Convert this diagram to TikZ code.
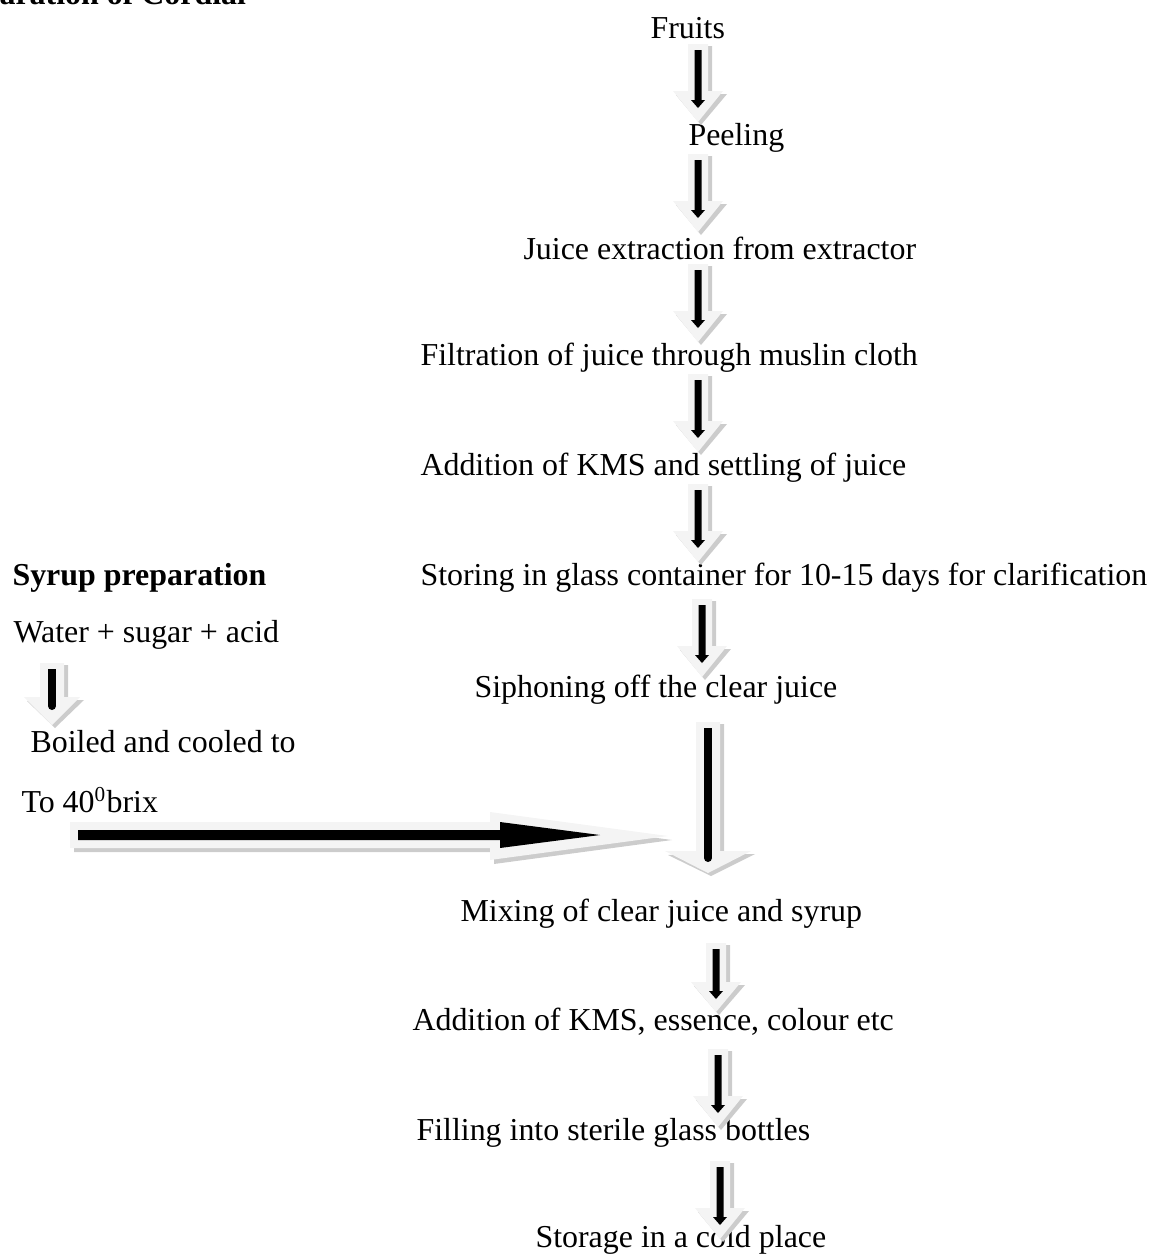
\documentclass[tikz,border=0pt]{standalone}
\usepackage{fontspec}
\setmainfont{Liberation Serif}
\newcommand\vgrey[6]{% x, top, tip, shaft half width, head half width, head length
  \fill[shadowfill] ({#1-#4+4},{#2+2}) -- ({#1+#4+4},{#2+2}) -- ({#1+#4+4},{#3-#6+3}) -- ({#1+#5+4},{#3-#6+3}) -- ({#1+3},{#3+3}) -- ({#1-#5+3},{#3-#6+4}) -- ({#1-#4+4},{#3-#6+3}) -- cycle;
  \fill[lightfill] ({#1-#4},{#2}) -- ({#1+#4},{#2}) -- ({#1+#4},{#3-#6}) -- ({#1+#5},{#3-#6}) -- (#1,#3) -- ({#1-#5},{#3-#6}) -- ({#1-#4},{#3-#6}) -- cycle;}
\newcommand\vblack[3]{% x, top, tip
  \fill[black] ({#1-3.5},#2) -- ({#1+3.5},#2) -- ({#1+3.5},{#3-8}) -- ({#1+7},{#3-8}) -- (#1,#3) -- ({#1-7},{#3-8}) -- ({#1-3.5},{#3-8}) -- cycle;}
\newcommand\vblackround[4]{% x, top, bottom, half width
  \fill[black] ({#1-#4},#2) rectangle ({#1+#4},#3);
  \fill[black] (#1,#3) circle (#4);}
\newcommand\stdarrow[2]{% x, top (length 78)
  \vgrey{#1}{#2}{#2+78}{10}{25}{31}
  \vblack{#1}{#2+6}{#2+64}}
\begin{document}
\begin{tikzpicture}[x=0.01322cm,y=-0.01322cm,
  lbl/.style={inner sep=0pt, anchor=west, font=\fontsize{12}{14}\selectfont},
  hd/.style={lbl, font=\fontsize{12}{14}\selectfont\bfseries},
  lightfill/.style={fill=gray!9},
  shadowfill/.style={fill=gray!40}]
\useasboundingbox (0,0) rectangle (1150,1257);

% title (cut off by the page top)
\node[hd, anchor=base west] (title) at (-66,4) {Preparation of Cordial};

% main column texts
\node[lbl] (fruits) at (650,28) {Fruits};
\node[lbl] (peeling) at (688,138) {Peeling};
\node[lbl] (juice) at (523,248) {Juice extraction from extractor};
\node[lbl] (filtr) at (420,358) {Filtration of juice through muslin cloth};
\node[lbl] (kms) at (420,468) {Addition of KMS and settling of juice};
\node[lbl] (store) at (420,578) {Storing in glass container for 10-15 days for clarification};
\node[lbl] (siphon) at (474,690) {Siphoning off the clear juice};
\node[lbl] (mix) at (460,914) {Mixing of clear juice and syrup};
\node[lbl] (ess) at (412,1022) {Addition of KMS, essence, colour etc};
\node[lbl] (fill) at (416,1133) {Filling into sterile glass bottles};
\node[lbl] (storage) at (535,1240) {Storage in a cold place};

% syrup column texts
\node[hd] (syrup) at (12,578) {Syrup preparation};
\node[lbl] (water) at (13,635) {Water + sugar + acid};
\node[lbl] (boiled) at (30,742) {Boiled and cooled to};
\node[lbl] (brix) at (21,800) {To 40\textsuperscript{0}brix};

% main column arrows
\stdarrow{698}{44}
\stdarrow{698}{154}
\stdarrow{698}{264}
\stdarrow{698}{374}
\stdarrow{698}{484}
\stdarrow{702}{599}

% big arrow siphon -> mixing
\vgrey{708}{722}{873}{12}{43}{22}
\vblackround{708}{728}{858}{4}

% lower arrows
\vgrey{716}{943}{1012}{10}{25}{30}
\vblack{716}{949}{999}
\stdarrow{718}{1049}
\stdarrow{720}{1161}

% syrup small arrow
\vgrey{52}{663}{725}{12}{28}{28}
\vblackround{52}{669}{706}{4}

% horizontal arrow syrup -> mixing
\fill[shadowfill] (74,826) -- (494,826) -- (494,816) -- (672,840) -- (494,864) -- (494,852) -- (74,852) -- cycle;
\fill[lightfill] (70,822) -- (490,822) -- (490,812) -- (668,836) -- (490,860) -- (490,848) -- (70,848) -- cycle;
\fill[black] (78,830) -- (500,830) -- (500,822) -- (600,835) -- (500,848) -- (500,840) -- (78,840) -- cycle;
\end{tikzpicture}
\end{document}
